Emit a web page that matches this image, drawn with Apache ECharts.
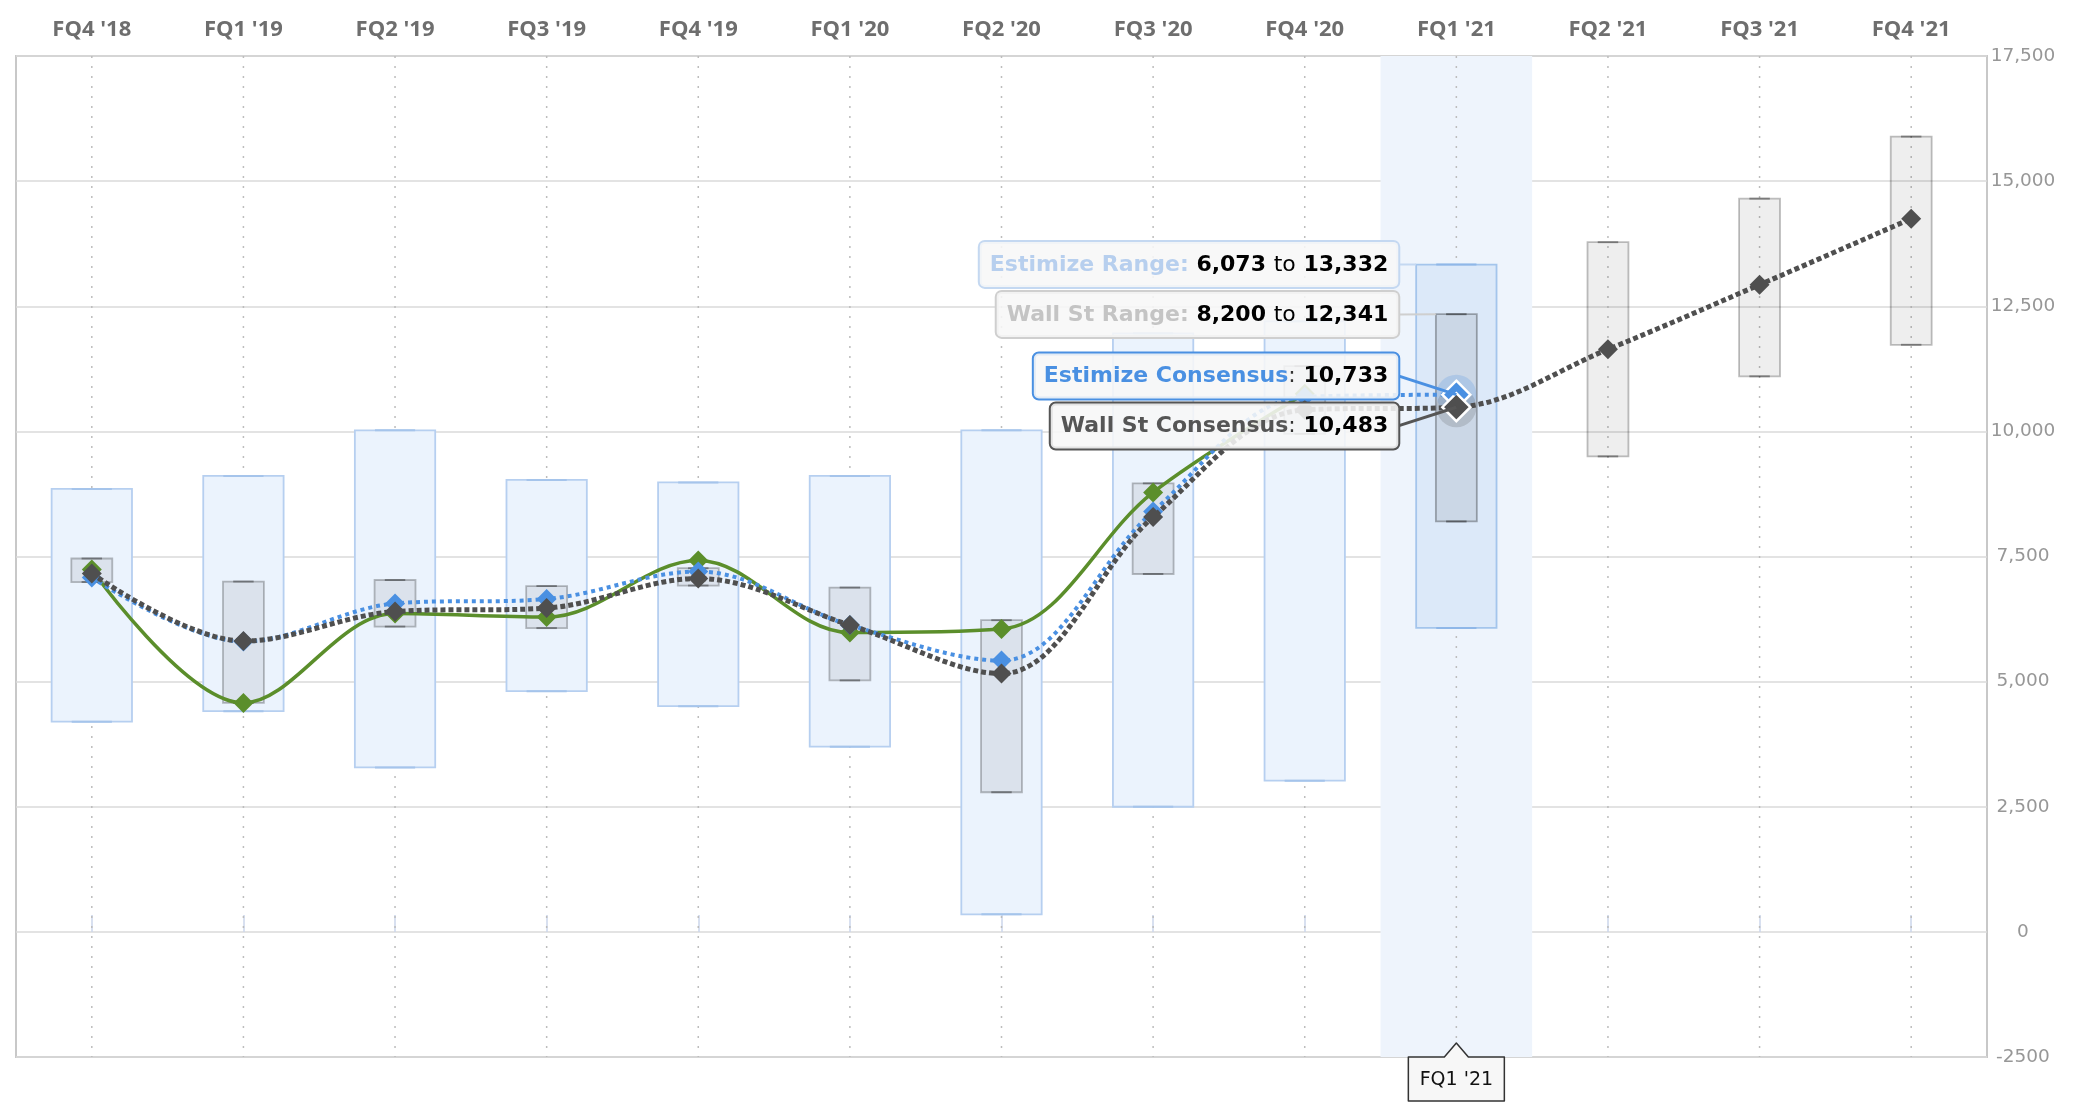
<!DOCTYPE html>
<html>
<head>
<meta charset="utf-8">
<script src="https://cdn.jsdelivr.net/npm/echarts@6/dist/echarts.min.js"></script>
<style>
html,body{margin:0;padding:0;background:#fff;}
#c{width:2098px;height:1112px;}
</style>
</head>
<body>
<div id="c"></div>
<script>
// ---------- DATA ----------
const categories = ["FQ4 '18","FQ1 '19","FQ2 '19","FQ3 '19","FQ4 '19","FQ1 '20","FQ2 '20","FQ3 '20","FQ4 '20","FQ1 '21","FQ2 '21","FQ3 '21","FQ4 '21"];
const estimizeLow  = [4200, 4410, 3285, 4810, 4510, 3700, 350, 2500, 3020, 6073, null, null, null];
const estimizeHigh = [8850, 9110, 10020, 9030, 8980, 9110, 10020, 11960, 12200, 13332, null, null, null];
const wallStLow    = [6990, 4575, 6100, 6070, 6920, 5025, 2790, 7150, 9950, 8200, 9500, 11100, 11730];
const wallStHigh   = [7460, 7000, 7030, 6910, 7266, 6880, 6228, 8962, 11305, 12341, 13780, 14650, 15890];
const estimizeConsensus = [7080, 5800, 6560, 6650, 7200, 6130, 5420, 8400, 10690, 10733, null, null, null];
const wallStConsensus   = [7160, 5810, 6400, 6470, 7060, 6130, 5160, 8290, 10430, 10483, 11640, 12930, 14250];
const actual            = [7240, 4575, 6360, 6290, 7420, 5980, 6050, 8780, 10750, null, null, null, null];
const yTickLabels = ['-2500','0','2,500','5,000','7,500','10,000','12,500','15,000','17,500'];
const yMin = -2500, yMax = 17500, yStep = 2500;
const hoverIndex = 9;

// ---------- STYLE ----------
const ESTW = 0.53, WALLW = 0.27;
const fmt = v => v.toLocaleString('en-US');

function boxRenderer(wFrac, fill, stroke, hFill, hStroke, cap, hCap) {
  return function (params, api) {
    const i = api.value(0), lo = api.value(1), hi = api.value(2);
    const pT = api.coord([i, hi]), pB = api.coord([i, lo]);
    const bw = api.size([1, 0])[0] * wFrac;
    const hov = i === hoverIndex;
    const cw = bw * 0.5;
    return {
      type: 'group',
      children: [
        { type: 'rect', shape: { x: pT[0] - bw / 2, y: pT[1], width: bw, height: pB[1] - pT[1] },
          style: { fill: hov ? hFill : fill, stroke: hov ? hStroke : stroke, lineWidth: 1.8 } },
        { type: 'line', shape: { x1: pT[0] - cw / 2, y1: pT[1], x2: pT[0] + cw / 2, y2: pT[1] },
          style: { stroke: hov ? hCap : cap, lineWidth: 2 } },
        { type: 'line', shape: { x1: pB[0] - cw / 2, y1: pB[1], x2: pB[0] + cw / 2, y2: pB[1] },
          style: { stroke: hov ? hCap : cap, lineWidth: 2 } }
      ]
    };
  };
}

const estBoxData = categories.map((c, i) => estimizeLow[i] == null ? null : [i, estimizeLow[i], estimizeHigh[i]]).filter(Boolean);
const wallBoxData = categories.map((c, i) => wallStLow[i] == null ? null : [i, wallStLow[i], wallStHigh[i]]).filter(Boolean);

function hoverify(arr, color) {
  return arr.map((v, i) => (i === hoverIndex && v != null)
    ? { value: v, symbolSize: 28, itemStyle: { color: color, borderColor: '#fff', borderWidth: 2.5 } }
    : v);
}

const option = {
  animation: false,
  backgroundColor: '#fff',
  grid: { left: 16, right: 111, top: 56, bottom: 55, show: true, borderColor: '#c8c8c8', borderWidth: 2, backgroundColor: 'transparent' },
  xAxis: {
    type: 'category',
    position: 'top',
    data: categories,
    boundaryGap: true,
    axisLine: { show: false },
    axisTick: { show: true, alignWithLabel: true, length: 17, lineStyle: { color: '#ccd6eb', width: 1.5 } },
    axisLabel: { margin: 15, fontSize: 22, fontWeight: 'bold', fontFamily: 'Open Sans', color: '#6e6e6e' },
    splitLine: { show: false }
  },
  yAxis: {
    type: 'value',
    position: 'right',
    min: yMin, max: yMax, interval: yStep,
    axisLine: { show: false },
    axisTick: { show: false },
    axisLabel: {
      margin: 36, align: 'center', fontSize: 18.5, fontFamily: 'DejaVu Sans', color: '#979797',
      formatter: v => yTickLabels[Math.round((v - yMin) / yStep)]
    },
    splitLine: { show: true, lineStyle: { color: '#dadada', width: 1.5 } }
  },
  series: [
    { // highlight band
      type: 'custom', z: 1, silent: true,
      data: [[hoverIndex, yMin]],
      encode: { x: 0, y: 1 },
      renderItem: function (params, api) {
        const cs = params.coordSys;
        const p = api.coord([api.value(0), yMin]);
        const bw = api.size([1, 0])[0];
        return { type: 'rect', shape: { x: p[0] - bw / 2, y: cs.y, width: bw, height: cs.height }, style: { fill: '#eef4fc' } };
      }
    },
    { // vertical dotted grid
      type: 'custom', z: 1, silent: true,
      data: categories.map((c, i) => [i, yMin]),
      encode: { x: 0, y: 1 },
      renderItem: function (params, api) {
        const cs = params.coordSys;
        const p = api.coord([api.value(0), yMin]);
        return { type: 'line', shape: { x1: p[0], y1: cs.y, x2: p[0], y2: cs.y + cs.height },
          style: { stroke: '#bdbdbd', lineWidth: 1.5, lineDash: [2, 8] } };
      }
    },
    {
      name: 'Estimize Range', type: 'custom', z: 2,
      data: estBoxData, encode: { x: 0, y: [1, 2] },
      renderItem: boxRenderer(ESTW, '#ebf3fd', '#b6cff0', '#dce9f9', '#a4c5ec', '#a5c4eb', '#8fb7e8')
    },
    {
      name: 'Wall St Range', type: 'custom', z: 3,
      data: wallBoxData, encode: { x: 0, y: [1, 2] },
      renderItem: boxRenderer(WALLW, 'rgba(0,0,0,0.065)', 'rgba(0,0,0,0.25)', 'rgba(0,0,0,0.075)', 'rgba(0,0,0,0.3)', 'rgba(0,0,0,0.35)', 'rgba(0,0,0,0.4)')
    },
    {
      name: 'Estimize Halo', type: 'scatter', z: 4, silent: true,
      data: [[hoverIndex, estimizeConsensus[hoverIndex]]],
      symbol: 'circle', symbolSize: 40, itemStyle: { color: 'rgba(74,144,226,0.28)' }
    },
    {
      name: 'Wall St Halo', type: 'scatter', z: 4, silent: true,
      data: [[hoverIndex, wallStConsensus[hoverIndex]]],
      symbol: 'circle', symbolSize: 40, itemStyle: { color: 'rgba(80,80,80,0.25)' }
    },
    {
      name: 'Actual', type: 'line', z: 5, smooth: 0.35,
      data: actual, symbol: 'diamond', symbolSize: 20, showAllSymbol: true,
      lineStyle: { color: '#5b8e2b', width: 3.5 }, itemStyle: { color: '#5b8e2b' }
    },
    {
      name: 'Estimize Consensus', type: 'line', z: 6, smooth: 0.35,
      data: hoverify(estimizeConsensus, '#4a90e2'), symbol: 'diamond', symbolSize: 20, showAllSymbol: true,
      lineStyle: { color: '#4a90e2', width: 4, type: [4, 4] }, itemStyle: { color: '#4a90e2' }
    },
    {
      name: 'Wall St Consensus', type: 'line', z: 7, smooth: 0.35,
      data: hoverify(wallStConsensus, '#4f4f4f'), symbol: 'diamond', symbolSize: 20, showAllSymbol: true,
      lineStyle: { color: '#4f4f4f', width: 5, type: [5, 3] }, itemStyle: { color: '#4f4f4f' }
    }
  ]
};

const chart = echarts.init(document.getElementById('c'), null, { renderer: 'canvas' });
chart.setOption(option);

// ---------- tooltip-like annotations (anchored to data via the axes) ----------
const px = (i, v) => chart.convertToPixel({ gridIndex: 0 }, [i, v]);
const h = hoverIndex;
const bandW = px(1, 0)[0] - px(0, 0)[0];
const gridBottom = px(0, yMin)[1];
const pEH = px(h, estimizeHigh[h]);
const pWH = px(h, wallStHigh[h]);
const pEC = px(h, estimizeConsensus[h]);
const pWC = px(h, wallStConsensus[h]);
const boxRight = pEH[0] - bandW * 0.383;
const FONT = 'DejaVu Sans';
const FS = 22;

const tips = [
  { t: pEH[1], ax: pEH[0] - bandW * ESTW / 2, ay: pEH[1],
    text: `{l|Estimize Range:} {v|${fmt(estimizeLow[h])}} {t|to} {v|${fmt(estimizeHigh[h])}}`,
    lab: '#b7cfee', colon: '#b7cfee', border: '#c4d8f1', line: '#c4d8f1', lw: 2 },
  { t: pWH[1], ax: pWH[0] - bandW * WALLW / 2, ay: pWH[1],
    text: `{l|Wall St Range:} {v|${fmt(wallStLow[h])}} {t|to} {v|${fmt(wallStHigh[h])}}`,
    lab: '#c4c4c4', colon: '#c4c4c4', border: '#cfcfcf', line: '#cfcfcf', lw: 2 },
  { t: pEC[1], ax: pEC[0], ay: pEC[1],
    text: `{l|Estimize Consensus}{c|:} {v|${fmt(estimizeConsensus[h])}}`,
    lab: '#4a90e2', colon: '#333', border: '#4a90e2', line: '#4a90e2', lw: 3 },
  { t: pWC[1], ax: pWC[0], ay: pWC[1],
    text: `{l|Wall St Consensus}{c|:} {v|${fmt(wallStConsensus[h])}}`,
    lab: '#555', colon: '#333', border: '#555', line: '#555', lw: 3 }
];

// distribute boxes vertically to avoid overlap
const spacing = 50;
const sorted = tips.slice().sort((a, b) => a.t - b.t);
let groups = sorted.map(b => ({ items: [b], center: b.t }));
let changed = true;
while (changed) {
  changed = false;
  for (let k = 1; k < groups.length; k++) {
    const g0 = groups[k - 1], g1 = groups[k];
    const bottom0 = g0.center + g0.items.length * spacing / 2;
    const top1 = g1.center - g1.items.length * spacing / 2;
    if (top1 < bottom0) {
      const items = g0.items.concat(g1.items);
      const center = items.reduce((s, b) => s + b.t, 0) / items.length;
      groups.splice(k - 1, 2, { items, center });
      changed = true;
      break;
    }
  }
}
groups.forEach(g => {
  const n = g.items.length;
  g.items.forEach((b, j) => { b.y = g.center - n * spacing / 2 + spacing * (j + 0.5); });
});

const graphics = [];
tips.forEach(b => {
  graphics.push({
    type: 'line', z: 98, silent: true,
    shape: { x1: boxRight, y1: b.y, x2: b.ax, y2: b.ay },
    style: { stroke: b.line, lineWidth: b.lw }
  });
  graphics.push({
    type: 'text', z: 100, silent: true,
    x: boxRight, y: b.y,
    style: {
      text: b.text,
      align: 'right', verticalAlign: 'middle',
      fontFamily: FONT, fontSize: FS, fontWeight: 'bold', fill: '#000',
      backgroundColor: 'rgba(247,247,247,0.88)',
      borderColor: b.border, borderWidth: 2, borderRadius: 5,
      padding: [12, 10, 11, 10],
      rich: {
        l: { fill: b.lab, fontFamily: FONT, fontSize: FS, fontWeight: 'bold' },
        c: { fill: b.colon, fontFamily: FONT, fontSize: FS, fontWeight: 'normal' },
        v: { fill: '#000', fontFamily: FONT, fontSize: FS, fontWeight: 'bold' },
        t: { fill: '#000', fontFamily: FONT, fontSize: FS, fontWeight: 'normal' }
      }
    }
  });
});

// x-axis crosshair label at the bottom
const axX = px(h, 0)[0];
const hw = 48, bh = 44;
graphics.push({
  type: 'polygon', z: 100, silent: true,
  shape: { points: [[axX - hw, gridBottom], [axX - 12, gridBottom], [axX, gridBottom - 14], [axX + 12, gridBottom],
                    [axX + hw, gridBottom], [axX + hw, gridBottom + bh], [axX - hw, gridBottom + bh]] },
  style: { fill: '#f7f7f7', stroke: '#333', lineWidth: 1.5, lineJoin: 'round' }
});
graphics.push({
  type: 'text', z: 101, silent: true,
  x: axX, y: gridBottom + bh / 2 + 1,
  style: { text: categories[h], align: 'center', verticalAlign: 'middle', fontFamily: FONT, fontSize: 19, fill: '#111' }
});

chart.setOption({ graphic: graphics });
</script>
</body>
</html>
